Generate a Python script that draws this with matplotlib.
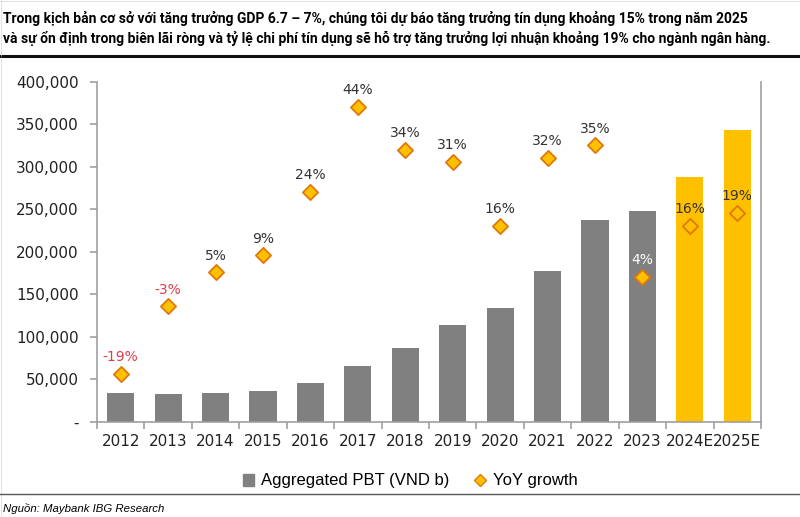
import matplotlib
matplotlib.use("Agg")
import matplotlib.pyplot as plt
from matplotlib.patches import Patch
from matplotlib.lines import Line2D
from matplotlib.ticker import FuncFormatter

# data
years = ["2012", "2013", "2014", "2015", "2016", "2017", "2018", "2019",
         "2020", "2021", "2022", "2023", "2024E", "2025E"]
pbt = [33700, 32600, 33700, 36800, 45500, 65800, 87300, 114400,
       134000, 177100, 237400, 248000, 288000, 343200]
growth = [-19, -3, 5, 9, 24, 44, 34, 31, 16, 32, 35, 4, 16, 19]
growth_labels = ["-19%", "-3%", "5%", "9%", "24%", "44%", "34%", "31%",
                 "16%", "32%", "35%", "4%", "16%", "19%"]
forecast = ["2024E", "2025E"]

title = ("Trong kịch bản cơ sở với tăng trưởng GDP 6.7 – 7%, chúng tôi dự báo tăng trưởng tín dụng khoảng 15% trong năm 2025\n"
         "và sự ổn định trong biên lãi ròng và tỷ lệ chi phí tín dụng sẽ hỗ trợ tăng trưởng lợi nhuận khoảng 19% cho ngành ngân hàng.")
source = "Nguồn: Maybank IBG Research"

GRAY = "#808080"
YELLOW = "#FFC000"
EDGE = "#E0780A"
AXIS = "#A0A0A0"

W, H = 800, 517
fig = plt.figure(figsize=(8, 5.17), dpi=100)

# page decorations
fig.add_artist(Line2D([0, 1], [1 - 56 / H] * 2, color="#111111", lw=2.2))
fig.add_artist(Line2D([0, 1], [1 - 494 / H] * 2, color="#555555", lw=1.0))
fig.add_artist(Line2D([0.5 / W, 0.5 / W], [0, 1], color="#BBBBBB", lw=0.6, ls=(0, (1, 1))))
fig.add_artist(Line2D([0, 1], [1 - 0.5 / H] * 2, color="#BBBBBB", lw=0.6, ls=(0, (1, 1))))

fig.text(3 / W, 1 - 28.5 / H, title, ha="left", va="center", fontsize=10,
         fontweight="bold", family=["Roboto", "DejaVu Sans"],
         linespacing=1.45)
fig.text(3 / W, 1 - 508 / H, source, ha="left", va="center", fontsize=8.2,
         style="italic", family=["Liberation Sans", "DejaVu Sans"])

ax = fig.add_axes([97 / W, 1 - 422 / H, (761 - 97) / W, (422 - 81.7) / H])
x = list(range(len(years)))
colors = [YELLOW if y in forecast else GRAY for y in years]
ax.bar(x, pbt, width=0.57, color=colors, zorder=2)

ax.set_xlim(-0.5, len(years) - 0.5)
ax.set_ylim(0, 400000)
ax.set_yticks(range(0, 400001, 50000))
ax.yaxis.set_major_formatter(FuncFormatter(lambda v, p: "-" if v == 0 else f"{int(v):,}"))
ax.set_xticks(x)
ax.set_xticklabels(years)
ax.set_xticks([i - 0.5 for i in range(len(years) + 1)], minor=True)
ax.tick_params(axis="x", which="major", length=0, labelsize=11, pad=9, colors="#222222")
ax.tick_params(axis="x", which="minor", length=5, color=AXIS, width=1.2)
ax.tick_params(axis="y", length=5, color=AXIS, width=1.2, labelsize=11, pad=8, colors="#222222")
ax.tick_params(axis="y", color=AXIS)
ax.spines["top"].set_visible(False)
for s in ["left", "bottom", "right"]:
    ax.spines[s].set_color(AXIS)
    ax.spines[s].set_linewidth(1.2)

ax2 = ax.twinx()
ax2.set_ylim(-30.3, 50)
ax2.set_yticks([])
for s in ax2.spines.values():
    s.set_visible(False)
ax2.scatter(x, growth, marker="D", s=60, color=YELLOW, edgecolor=EDGE,
            linewidth=1.3, zorder=3)
for i, (g, lab) in enumerate(zip(growth, growth_labels)):
    if g < 0:
        c = "#E03C4B"
    elif years[i] == "2023":
        c = "white"
    else:
        c = "#333333"
    ax2.annotate(lab, (i, g), xytext=(0, 7), textcoords="offset points",
                 ha="center", va="bottom", fontsize=10, color=c)

handles = [Patch(color=GRAY, label="Aggregated PBT (VND b)"),
           Line2D([], [], marker="D", ls="none", markersize=6, color=YELLOW,
                  markeredgecolor=EDGE, label="YoY growth")]
fig.legend(handles=handles, loc="center", bbox_to_anchor=(410 / W, 1 - 481 / H),
           ncol=2, frameon=False, prop={"family": "Liberation Sans", "size": 12},
           handlelength=0.7, handletextpad=0.4, columnspacing=1.5)

fig.savefig("out.png", dpi=100)
